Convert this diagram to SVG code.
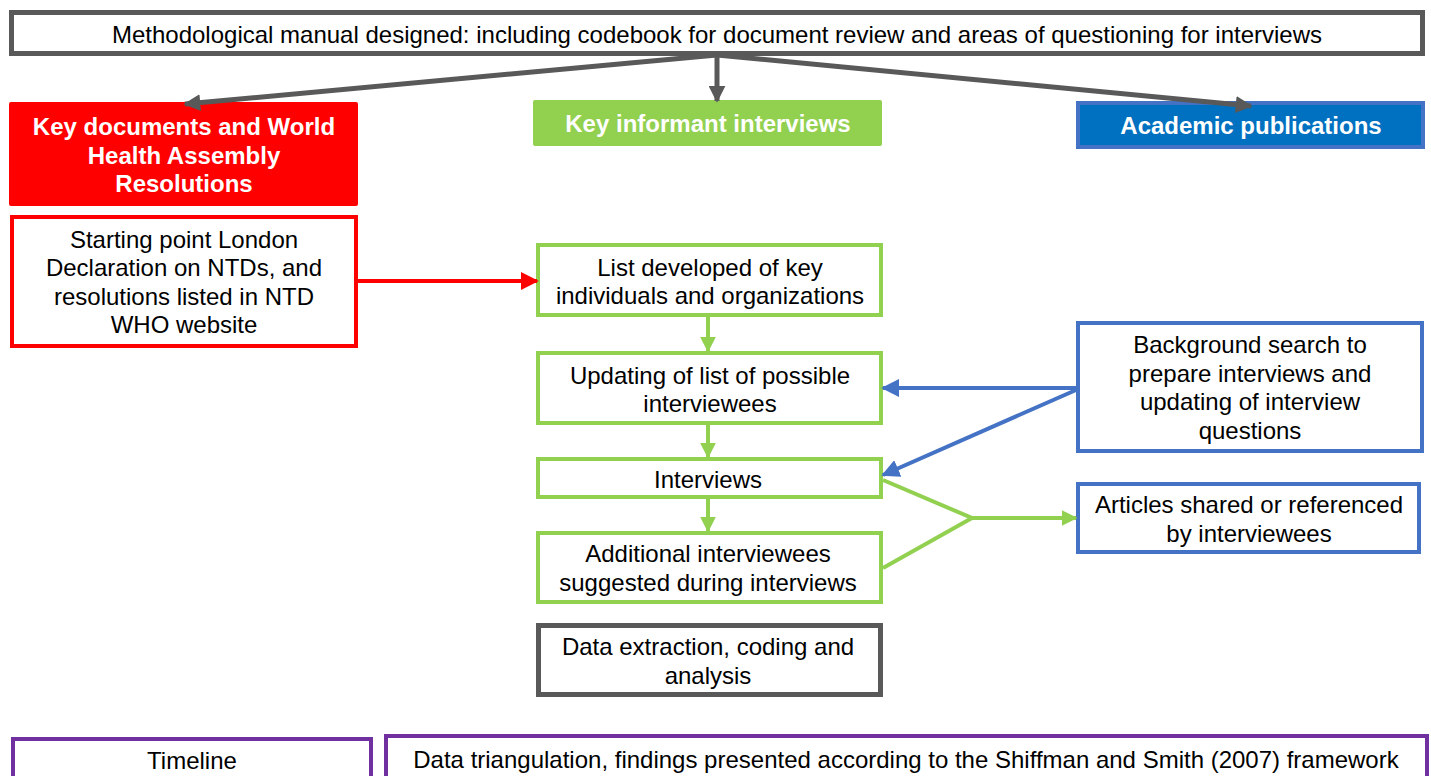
<svg xmlns="http://www.w3.org/2000/svg" width="1431" height="776" viewBox="0 0 1431 776">
<defs>
<style>
text{font-family:"Liberation Sans",Arial,sans-serif;font-size:24px;fill:#000;text-anchor:middle}
.hd{font-weight:bold;fill:#fff}
.gray{fill:#fff;stroke:#595959;stroke-width:5}
.red{fill:#fff;stroke:#FF0000;stroke-width:4}
.grn{fill:#fff;stroke:#92D050;stroke-width:4}
.blu{fill:#fff;stroke:#4472C4;stroke-width:4}
.pur{fill:#fff;stroke:#7030A0;stroke-width:4}
.cg{stroke:#595959;stroke-width:5;fill:none}
.cr{stroke:#FF0000;stroke-width:4;fill:none}
.cgr{stroke:#92D050;stroke-width:4;fill:none}
.cb{stroke:#4472C4;stroke-width:4;fill:none}
</style>
<marker id="mg" viewBox="0 0 10 10" refX="9" refY="5" markerWidth="3.4" markerHeight="3.4" orient="auto" markerUnits="strokeWidth"><path d="M0,0L10,5L0,10z" fill="#595959"/></marker>
<marker id="mr" viewBox="0 0 10 10" refX="9" refY="5" markerWidth="4.5" markerHeight="4.5" orient="auto" markerUnits="strokeWidth"><path d="M0,0L10,5L0,10z" fill="#FF0000"/></marker>
<marker id="mgr" viewBox="0 0 10 10" refX="9" refY="5" markerWidth="4" markerHeight="4" orient="auto" markerUnits="strokeWidth"><path d="M0,0L10,5L0,10z" fill="#92D050"/></marker>
<marker id="mb" viewBox="0 0 10 10" refX="9" refY="5" markerWidth="4.5" markerHeight="4.5" orient="auto" markerUnits="strokeWidth"><path d="M0,0L10,5L0,10z" fill="#4472C4"/></marker>
</defs>
<rect width="1431" height="776" fill="#fff"/>

<g id="n-manual">
<rect class="gray" x="11.5" y="12.5" width="1411" height="41"/>
<text x="717" y="43">Methodological manual designed: including codebook for document review and areas of questioning for interviews</text>
</g>

<g id="n-keydocs">
<rect x="9" y="102" width="349" height="104" rx="2" fill="#FF0000"/>
<text class="hd" x="184" y="135">Key documents and World</text>
<text class="hd" x="184" y="164">Health Assembly</text>
<text class="hd" x="184" y="192">Resolutions</text>
</g>

<g id="n-kii">
<rect x="533" y="100" width="349" height="46" rx="2" fill="#92D050"/>
<text class="hd" x="708" y="132">Key informant interviews</text>
</g>

<g id="n-academic">
<rect x="1078" y="103" width="345" height="44" fill="#0070C0" stroke="#4472C4" stroke-width="4"/>
<text class="hd" x="1251" y="134">Academic publications</text>
</g>

<g id="n-london">
<rect class="red" x="12" y="217" width="344" height="129"/>
<text x="184" y="248">Starting point London</text>
<text x="184" y="276">Declaration on NTDs, and</text>
<text x="184" y="305">resolutions listed in NTD</text>
<text x="184" y="333">WHO website</text>
</g>

<g id="n-list">
<rect class="grn" x="538" y="245" width="343" height="70"/>
<text x="710" y="276">List developed of key</text>
<text x="710" y="304">individuals and organizations</text>
</g>

<g id="n-updating">
<rect class="grn" x="538" y="353" width="343" height="70"/>
<text x="710" y="384">Updating of list of possible</text>
<text x="710" y="412">interviewees</text>
</g>

<g id="n-interviews">
<rect class="grn" x="538" y="459" width="343" height="38"/>
<text x="708" y="488">Interviews</text>
</g>

<g id="n-additional">
<rect class="grn" x="538" y="533" width="343" height="69"/>
<text x="708" y="562">Additional interviewees</text>
<text x="708" y="591">suggested during interviews</text>
</g>

<g id="n-data">
<rect class="gray" x="538.5" y="625.5" width="342" height="69"/>
<text x="708" y="655">Data extraction, coding and</text>
<text x="708" y="684">analysis</text>
</g>

<g id="n-background">
<rect class="blu" x="1078" y="323" width="344" height="128"/>
<text x="1250" y="353">Background search to</text>
<text x="1250" y="382">prepare interviews and</text>
<text x="1250" y="410">updating of interview</text>
<text x="1250" y="439">questions</text>
</g>

<g id="n-articles">
<rect class="blu" x="1078" y="484" width="341" height="68"/>
<text x="1249" y="513">Articles shared or referenced</text>
<text x="1249" y="542">by interviewees</text>
</g>

<g id="n-timeline">
<rect class="pur" x="13" y="739" width="358" height="45"/>
<text x="192" y="769">Timeline</text>
</g>

<g id="n-triangulation">
<rect class="pur" x="386" y="736" width="1041" height="48"/>
<text x="906" y="768">Data triangulation, findings presented according to the Shiffman and Smith (2007) framework</text>
</g>

<g id="connectors">
<line class="cg" x1="717" y1="55" x2="185" y2="104" marker-end="url(#mg)"/>
<line class="cg" x1="717" y1="55" x2="717" y2="101" marker-end="url(#mg)"/>
<line class="cg" x1="717" y1="55" x2="1251" y2="106" marker-end="url(#mg)"/>
<line class="cr" x1="358" y1="281" x2="537" y2="281" marker-end="url(#mr)"/>
<line class="cgr" x1="708" y1="317" x2="708" y2="351" marker-end="url(#mgr)"/>
<line class="cgr" x1="708" y1="425" x2="708" y2="457" marker-end="url(#mgr)"/>
<line class="cgr" x1="708" y1="499" x2="708" y2="531" marker-end="url(#mgr)"/>
<line class="cb" x1="1076" y1="388" x2="883" y2="388" marker-end="url(#mb)"/>
<line class="cb" x1="1076" y1="390" x2="883" y2="475" marker-end="url(#mb)"/>
<polyline class="cgr" points="883,480 972,518 883,568"/>
<line class="cgr" x1="972" y1="518" x2="1076" y2="518" marker-end="url(#mgr)"/>
</g>
</svg>
